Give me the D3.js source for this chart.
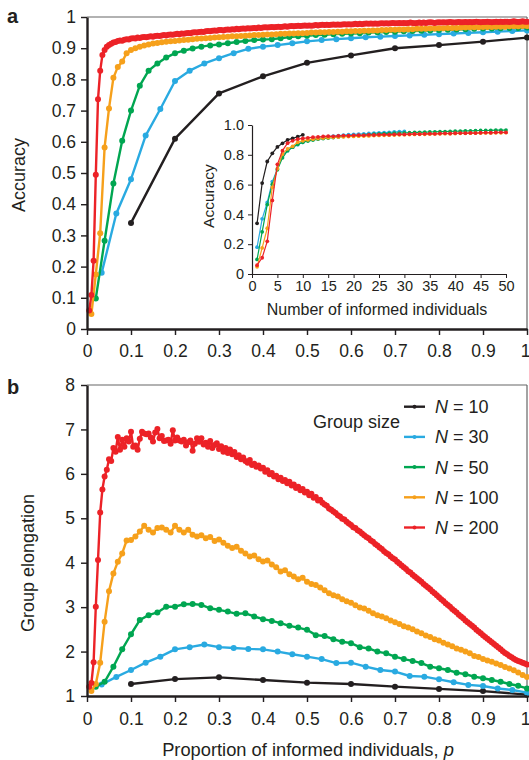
<!DOCTYPE html>
<html><head><meta charset="utf-8">
<script src="https://cdn.jsdelivr.net/npm/d3@7"></script>
<style>
body{margin:0;background:#fff}
svg{display:block}
text{font-family:"Liberation Sans",Arial,Helvetica,sans-serif;fill:#231f20}
</style>
</head><body>
<svg id="c" width="529" height="760"></svg>
<script>
// ---------- DATA ----------
const groupSizes = [10, 30, 50, 100, 200];
const seriesColors = ["#231f20", "#29aae1", "#00a651", "#f6a01b", "#ec2227"];
const legendLabels = ["10", "30", "50", "100", "200"];

// Panel a: accuracy, k-th value = k informed individuals (p = k/N)
const accN10 = [0.34,0.61,0.755,0.81,0.853,0.877,0.90,0.91,0.921,0.934];
const accN30 = [0.18,0.37,0.48,0.62,0.705,0.795,0.828,0.851,0.868,0.884,
  0.898,0.905,0.910,0.916,0.922,0.926,0.929,0.932,0.935,0.937,
  0.939,0.941,0.943,0.945,0.947,0.949,0.951,0.953,0.955,0.957];
const accN50 = [0.098,0.283,0.466,0.603,0.70,0.78,0.828,0.851,0.87,0.884,
  0.892,0.899,0.905,0.909,0.912,0.916,0.920,0.923,0.926,0.928,
  0.929,0.932,0.936,0.938,0.940,0.942,0.943,0.945,0.946,0.947,
  0.948,0.950,0.951,0.952,0.953,0.954,0.955,0.956,0.957,0.958,
  0.959,0.960,0.961,0.962,0.963,0.963,0.964,0.965,0.965,0.966];
const accN100 = [0.048,0.175,0.307,0.582,0.707,0.805,0.84,0.857,0.884,0.894,
  0.900,0.905,0.909,0.912,0.915,0.917,0.919,0.921,0.922,0.923,
  0.925,0.926,0.927,0.929,0.930,0.931,0.932,0.933,0.934,0.935,
  0.936,0.937,0.938,0.938,0.939,0.940,0.941,0.942,0.942,0.943,
  0.944,0.944,0.945,0.946,0.946,0.947,0.947,0.948,0.948,0.949,
  0.950,0.950,0.951,0.951,0.952,0.952,0.953,0.953,0.954,0.954,
  0.955,0.955,0.956,0.956,0.957,0.957,0.958,0.958,0.959,0.959,
  0.960,0.960,0.961,0.961,0.962,0.962,0.962,0.963,0.963,0.964,
  0.964,0.965,0.965,0.965,0.966,0.966,0.967,0.967,0.967,0.968,
  0.968,0.968,0.969,0.969,0.969,0.970,0.970,0.970,0.971,0.971];
const accN200 = [0.059,0.109,0.219,0.494,0.736,0.828,0.878,0.894,0.905,0.910,
  0.914,0.918,0.920,0.923,0.925,0.924,0.927,0.929,0.928,0.931,
  0.932,0.931,0.934,0.933,0.935,0.936,0.935,0.937,0.938,0.937,
  0.939,0.940,0.939,0.941,0.942,0.941,0.943,0.944,0.943,0.945,
  0.946,0.945,0.947,0.946,0.948,0.949,0.948,0.950,0.951,0.950,
  0.952,0.953,0.952,0.954,0.955,0.954,0.956,0.957,0.956,0.958,
  0.958,0.957,0.959,0.960,0.959,0.961,0.960,0.962,0.961,0.962,
  0.963,0.962,0.964,0.963,0.964,0.965,0.964,0.966,0.965,0.966,
  0.967,0.966,0.967,0.968,0.967,0.968,0.969,0.968,0.969,0.970,
  0.969,0.970,0.971,0.970,0.971,0.972,0.971,0.972,0.973,0.972,
  0.973,0.972,0.973,0.974,0.973,0.974,0.975,0.974,0.975,0.974,
  0.975,0.976,0.975,0.976,0.975,0.976,0.977,0.976,0.977,0.976,
  0.977,0.978,0.977,0.978,0.977,0.978,0.979,0.978,0.979,0.978,
  0.979,0.978,0.979,0.980,0.979,0.980,0.979,0.980,0.981,0.980,
  0.980,0.981,0.980,0.981,0.980,0.981,0.982,0.981,0.980,0.981,
  0.982,0.981,0.982,0.981,0.982,0.983,0.982,0.981,0.982,0.983,
  0.982,0.983,0.982,0.983,0.984,0.983,0.982,0.983,0.984,0.983,
  0.983,0.984,0.983,0.984,0.983,0.984,0.985,0.984,0.983,0.984,
  0.984,0.985,0.984,0.983,0.984,0.985,0.984,0.985,0.984,0.985,
  0.985,0.984,0.985,0.986,0.985,0.984,0.985,0.986,0.985,0.985];

// Panel b: group elongation
const elongN10 = [1.27,1.38,1.42,1.36,1.30,1.27,1.21,1.16,1.11,1.03];
const elongN30 = [1.26,1.43,1.585,1.75,1.885,2.05,2.10,2.16,2.10,2.08,
  2.06,2.05,2.00,1.94,1.885,1.83,1.74,1.75,1.66,1.585,
  1.55,1.45,1.435,1.375,1.31,1.25,1.225,1.17,1.135,1.075];
const elongN50 = [1.21,1.32,1.66,2.05,2.39,2.71,2.82,2.88,3.01,3.01,
  3.065,3.07,3.05,2.975,2.94,2.90,2.85,2.86,2.79,2.73,
  2.69,2.64,2.58,2.54,2.49,2.37,2.35,2.28,2.22,2.19,
  2.10,2.07,2.00,1.96,1.885,1.83,1.79,1.74,1.66,1.625,
  1.585,1.525,1.49,1.435,1.40,1.36,1.32,1.27,1.23,1.17];
const elongN100 = [1.11,1.27,1.75,2.67,3.36,3.76,4.02,4.21,4.50,4.51,
  4.59,4.70,4.83,4.74,4.68,4.78,4.79,4.74,4.68,4.83,
  4.74,4.68,4.74,4.63,4.59,4.62,4.55,4.58,4.49,4.52,
  4.45,4.38,4.33,4.36,4.27,4.21,4.14,4.16,4.08,4.03,
  4.05,3.96,3.90,3.80,3.83,3.74,3.69,3.63,3.66,3.57,
  3.52,3.50,3.44,3.38,3.31,3.27,3.24,3.18,3.13,3.10,
  3.04,2.99,2.97,2.92,2.86,2.82,2.79,2.75,2.70,2.66,
  2.62,2.57,2.54,2.50,2.45,2.41,2.36,2.33,2.28,2.25,
  2.20,2.16,2.12,2.07,2.04,2.00,1.96,1.90,1.88,1.83,
  1.80,1.77,1.73,1.70,1.65,1.62,1.58,1.53,1.47,1.43];
const elongN200 = [1.21,1.29,1.76,3.01,4.06,5.13,5.65,5.94,6.09,6.33,
  6.29,6.58,6.50,6.83,6.54,6.77,6.61,6.80,6.73,6.95,
  6.61,6.64,6.54,6.79,6.95,6.91,6.89,6.91,6.82,6.73,
  6.93,7.01,6.80,6.85,6.74,6.75,6.77,6.68,6.98,6.75,
  6.82,6.75,6.73,6.77,6.64,6.71,6.75,6.52,6.68,6.80,
  6.72,6.80,6.66,6.70,6.61,6.74,6.58,6.65,6.69,6.56,
  6.62,6.50,6.58,6.47,6.55,6.44,6.49,6.38,6.42,6.33,
  6.37,6.29,6.25,6.31,6.20,6.23,6.16,6.19,6.12,6.14,
  6.05,6.08,5.99,6.02,5.94,5.96,5.88,5.91,5.84,5.86,
  5.79,5.82,5.74,5.76,5.68,5.71,5.63,5.66,5.58,5.60,
  5.52,5.55,5.46,5.48,5.40,5.42,5.35,5.31,5.28,5.22,
  5.19,5.15,5.12,5.07,5.04,4.99,4.97,4.92,4.88,4.85,
  4.80,4.78,4.73,4.70,4.66,4.62,4.58,4.55,4.50,4.47,
  4.42,4.39,4.34,4.31,4.26,4.22,4.19,4.14,4.10,4.07,
  4.02,3.98,3.94,3.90,3.86,3.81,3.78,3.73,3.69,3.65,
  3.61,3.57,3.52,3.48,3.44,3.40,3.35,3.31,3.27,3.22,
  3.18,3.14,3.09,3.05,3.01,2.96,2.92,2.88,2.83,2.79,
  2.75,2.70,2.66,2.62,2.58,2.54,2.49,2.45,2.41,2.37,
  2.33,2.29,2.25,2.21,2.17,2.13,2.09,2.05,2.01,1.97,
  1.94,1.90,1.87,1.84,1.81,1.79,1.77,1.75,1.73,1.71];

const pTicks = [0,0.1,0.2,0.3,0.4,0.5,0.6,0.7,0.8,0.9,1];
const accTicks = [0,0.1,0.2,0.3,0.4,0.5,0.6,0.7,0.8,0.9,1];
const elongTicks = [1,2,3,4,5,6,7,8];
const insetXTicks = [0,5,10,15,20,25,30,35,40,45,50];
const insetYTicks = [0,0.2,0.4,0.6,0.8,1.0];
const insetMax = 50;

const accSeries = [accN10, accN30, accN50, accN100, accN200];
const elongSeries = [elongN10, elongN30, elongN50, elongN100, elongN200];

// ---------- DRAW ----------
const svg = d3.select("#c");
const FONT = '"Liberation Sans",Arial,Helvetica,sans-serif';
const fmt1 = d => (d === 0 ? "0" : d === 1 ? "1" : d.toFixed(1));

function styleAxis(g, w, fs) {
  g.selectAll("text").style("font-size", fs + "px").style("font-family", FONT).attr("fill", "#231f20");
  g.select(".domain").attr("stroke", "#231f20").attr("stroke-width", w);
  g.selectAll(".tick line").attr("stroke", "#231f20").attr("stroke-width", Math.max(1, w * 0.6));
}

function frame(x0, x1, y0, y1) {
  svg.append("line").attr("x1", x0).attr("x2", x1).attr("y1", y0).attr("y2", y0)
    .attr("stroke", "#666").attr("stroke-width", 1.2);
  svg.append("line").attr("x1", x1).attr("x2", x1).attr("y1", y0).attr("y2", y1)
    .attr("stroke", "#666").attr("stroke-width", 1.2);
}

function plotAll(series, x, y, lw, r, useCount, limit) {
  series.forEach((data, si) => {
    const N = groupSizes[si];
    const col = seriesColors[si];
    const vals = data.map((v, i) => ({k: i + 1, v})).filter(d => limit == null || d.k <= limit);
    const xv = d => useCount ? x(d.k) : x(d.k / N);
    const line = d3.line().x(xv).y(d => y(d.v));
    svg.append("path").datum(vals).attr("d", line).attr("fill", "none")
      .attr("stroke", col).attr("stroke-width", lw).attr("stroke-linejoin", "round");
    svg.append("g").selectAll("circle").data(vals).join("circle")
      .attr("cx", xv).attr("cy", d => y(d.v)).attr("r", r).attr("fill", col);
  });
}

function nudgeLast(g) {
  g.selectAll(".tick").filter(d => d === 1).select("text").attr("dx", "-2");
}

// Panel a
const xA = d3.scaleLinear().domain([0, 1]).range([87, 527]);
const yA = d3.scaleLinear().domain([0, 1]).range([329, 17]);
frame(87, 527, 17, 329);
plotAll(accSeries, xA, yA, 2.4, 3, false, null);
svg.append("g").attr("transform", "translate(0,329)")
  .call(d3.axisBottom(xA).tickValues(pTicks).tickFormat(fmt1).tickSize(6).tickSizeOuter(0).tickPadding(10))
  .call(g => styleAxis(g, 2.4, 17.5)).call(nudgeLast);
svg.append("g").attr("transform", "translate(87,0)")
  .call(d3.axisLeft(yA).tickValues(accTicks).tickFormat(fmt1).tickSize(6).tickSizeOuter(0).tickPadding(5))
  .call(g => styleAxis(g, 2.4, 17.5));
svg.append("text").attr("transform", "translate(25,175) rotate(-90)").attr("text-anchor", "middle")
  .style("font-size", "18px").text("Accuracy");
svg.append("text").attr("x", 7).attr("y", 23).style("font-size", "20px").style("font-weight", "bold").text("a");

// Inset
const xI = d3.scaleLinear().domain([0, 50]).range([252, 506]);
const yI = d3.scaleLinear().domain([0, 1]).range([274, 125]);
plotAll(accSeries, xI, yI, 1.2, 1.9, true, insetMax);
svg.append("g").attr("transform", "translate(0,274)")
  .call(d3.axisBottom(xI).tickValues(insetXTicks).tickSize(4).tickSizeOuter(0).tickPadding(3))
  .call(g => styleAxis(g, 1.2, 14.5));
svg.append("g").attr("transform", "translate(252,0)")
  .call(d3.axisLeft(yI).tickValues(insetYTicks).tickFormat(d => d === 0 ? "0" : d.toFixed(1)).tickSize(4).tickSizeOuter(0).tickPadding(4))
  .call(g => styleAxis(g, 1.2, 14.5));
svg.append("text").attr("transform", "translate(214,196) rotate(-90)").attr("text-anchor", "middle")
  .style("font-size", "15.5px").text("Accuracy");
svg.append("text").attr("x", 377).attr("y", 315).attr("text-anchor", "middle")
  .style("font-size", "16px").text("Number of informed individuals");

// Panel b
const xB = d3.scaleLinear().domain([0, 1]).range([87, 527]);
const yB = d3.scaleLinear().domain([1, 8]).range([696, 385]);
frame(87, 527, 385, 696);
plotAll(elongSeries, xB, yB, 2.4, 3, false, null);
svg.append("g").attr("transform", "translate(0,696)")
  .call(d3.axisBottom(xB).tickValues(pTicks).tickFormat(fmt1).tickSize(6).tickSizeOuter(0).tickPadding(11))
  .call(g => styleAxis(g, 2.4, 17.5)).call(nudgeLast);
svg.append("g").attr("transform", "translate(87,0)")
  .call(d3.axisLeft(yB).tickValues(elongTicks).tickFormat(d3.format("d")).tickSize(6).tickSizeOuter(0).tickPadding(6))
  .call(g => styleAxis(g, 2.4, 17.5));
svg.append("text").attr("transform", "translate(34,563) rotate(-90)").attr("text-anchor", "middle")
  .style("font-size", "18px").text("Group elongation");
const xt = svg.append("text").attr("x", 308).attr("y", 756).attr("text-anchor", "middle").style("font-size", "18.3px");
xt.append("tspan").text("Proportion of informed individuals, ");
xt.append("tspan").style("font-style", "italic").text("p");
svg.append("text").attr("x", 7).attr("y", 394).style("font-size", "20px").style("font-weight", "bold").text("b");

// Legend
svg.append("text").attr("x", 313).attr("y", 428).style("font-size", "18px").text("Group size");
const leg = svg.append("g").selectAll("g").data(groupSizes).join("g")
  .attr("transform", (d, i) => `translate(0,${406.7 + i * 30.2})`);
leg.append("line").attr("x1", 404).attr("x2", 425).attr("y1", 0).attr("y2", 0)
  .attr("stroke", (d, i) => seriesColors[i]).attr("stroke-width", 2.4);
leg.append("circle").attr("cx", 414.5).attr("cy", 0).attr("r", 2).attr("fill", (d, i) => seriesColors[i]);
const lt = leg.append("text").attr("x", 435).attr("y", 6.5).style("font-size", "18px");
lt.append("tspan").style("font-style", "italic").text("N");
lt.append("tspan").text((d, i) => " = " + legendLabels[i]);
</script>
</body></html>
